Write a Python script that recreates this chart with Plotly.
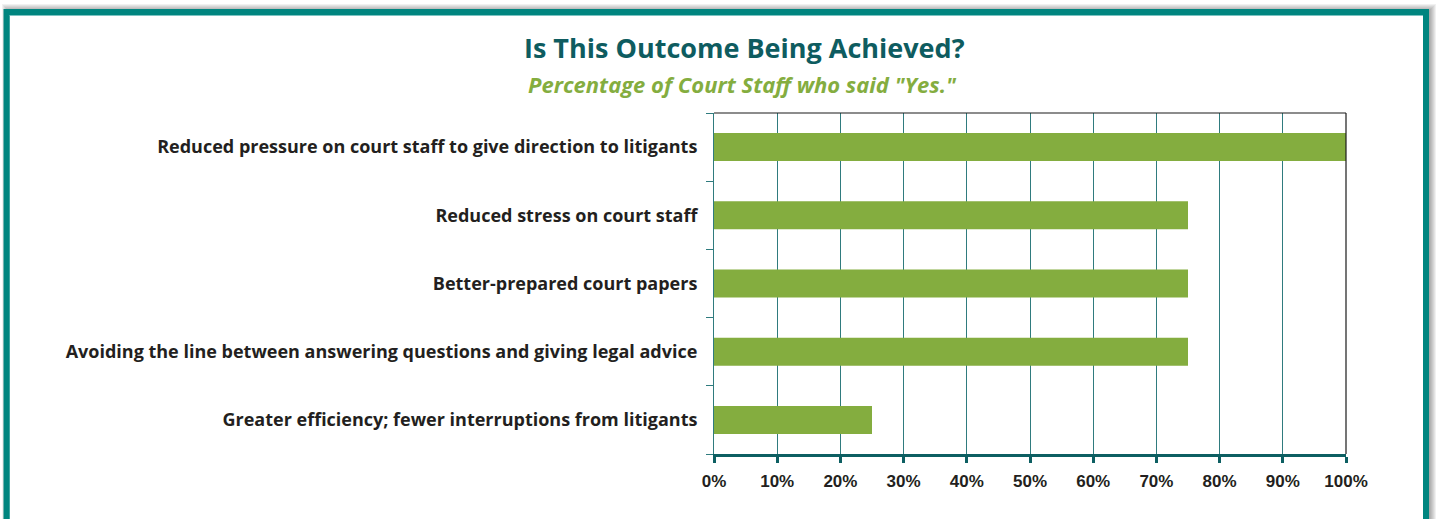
import plotly.graph_objects as go

# Survey outcomes, listed top to bottom as displayed
outcomes = [
    "Reduced pressure on court staff to give direction to litigants",
    "Reduced stress on court staff",
    "Better-prepared court papers",
    "Avoiding the line between answering questions and giving legal advice",
    "Greater efficiency; fewer interruptions from litigants",
]
pct_yes = [100, 75, 75, 75, 25]
x_ticks = list(range(0, 101, 10))
x_tick_text = [f"{v}%" for v in x_ticks]

W, H = 1436, 519
ML, MR, MT, MB = 714, 90, 113, 65
PW, PH = W - ML - MR, H - MT - MB

TEAL = "#00857F"
AXIS_TEAL = "#0D5F62"
GRID_TEAL = "#2F7B7E"
GREEN = "#84AD3F"
INK = "#231F20"
LABEL_FONT = "Open Sans"


def px(x):
    return (x - ML) / PW


def py(y):
    return (H - MB - y) / PH


fig = go.Figure(
    go.Bar(
        x=pct_yes,
        y=outcomes,
        orientation="h",
        marker=dict(color=GREEN, line=dict(width=0)),
        hoverinfo="x+y",
    )
)

shapes = []
# soft drop shadow behind the frame, heavier toward the lower right
for k in range(1, 10):
    shapes.append(dict(
        type="rect", xref="paper", yref="paper", layer="below",
        x0=px(7 - k + 4), x1=px(1426 + k + 1),
        y0=py(540), y1=py(12 - k + 1),
        fillcolor="rgba(0,0,0,0.055)", line=dict(width=0),
    ))
# white card
shapes.append(dict(
    type="rect", xref="paper", yref="paper", layer="below",
    x0=px(7), x1=px(1426), y0=py(540), y1=py(12),
    fillcolor="white", line=dict(width=0),
))
# thin light inner edge of the frame
shapes.append(dict(
    type="rect", xref="paper", yref="paper", layer="below",
    x0=px(9.5), x1=px(1423.5), y0=py(545), y1=py(15.5),
    fillcolor="rgba(0,0,0,0)", line=dict(color="#7CC3C2", width=1),
))
# teal frame
shapes.append(dict(
    type="rect", xref="paper", yref="paper", layer="below",
    x0=px(6.5), x1=px(1426), y0=py(545), y1=py(12),
    fillcolor="rgba(0,0,0,0)", line=dict(color=TEAL, width=6),
))
# black top and right borders of the plot area
shapes.append(dict(type="line", xref="paper", yref="paper", layer="above",
                   x0=0, x1=1, y0=1, y1=1, line=dict(color="#1A1A1A", width=1.2)))
shapes.append(dict(type="line", xref="paper", yref="paper", layer="above",
                   x0=1, x1=1, y0=0, y1=1, line=dict(color="#1A1A1A", width=1.2)))

annotations = [
    dict(text="<b>Is This Outcome Being Achieved?</b>", xref="paper", yref="paper",
         x=px(744), y=py(48), xanchor="center", yanchor="middle", showarrow=False,
         font=dict(family=LABEL_FONT, size=27, color="#0E5C60")),
    dict(text="<b><i>Percentage of Court Staff who said \"Yes.\"</i></b>", xref="paper", yref="paper",
         x=px(742), y=py(84), xanchor="center", yanchor="middle", showarrow=False,
         font=dict(family=LABEL_FONT, size=22, color=GREEN)),
]

fig.update_layout(
    width=W, height=H,
    margin=dict(l=ML, r=MR, t=MT, b=MB, pad=0),
    paper_bgcolor="white",
    plot_bgcolor="rgba(0,0,0,0)",
    showlegend=False,
    bargap=0.59,
    shapes=shapes,
    annotations=annotations,
    xaxis=dict(
        range=[0, 100],
        tickmode="array", tickvals=x_ticks,
        ticktext=[f"<b>{t}</b>" for t in x_tick_text],
        tickfont=dict(family="Liberation Sans", size=17, color=INK),
        ticks="outside", ticklen=6, tickwidth=3, tickcolor=AXIS_TEAL,
        ticklabelstandoff=4,
        showline=True, linecolor=AXIS_TEAL, linewidth=3,
        showgrid=True, gridcolor=GRID_TEAL, gridwidth=1,
        zeroline=False, fixedrange=True,
    ),
    yaxis=dict(
        autorange="reversed",
        type="category",
        tickson="boundaries",
        tickmode="array", tickvals=outcomes,
        ticktext=[f"<b>{o}</b>" for o in outcomes],
        ticks="outside", ticklen=7, tickwidth=1, tickcolor=GRID_TEAL,
        ticklabelstandoff=12,
        tickfont=dict(family=LABEL_FONT, size=18, color=INK),
        showline=True, linecolor=GRID_TEAL, linewidth=1,
        showgrid=False, zeroline=False, fixedrange=True,
    ),
)

fig.write_html("out.html")
